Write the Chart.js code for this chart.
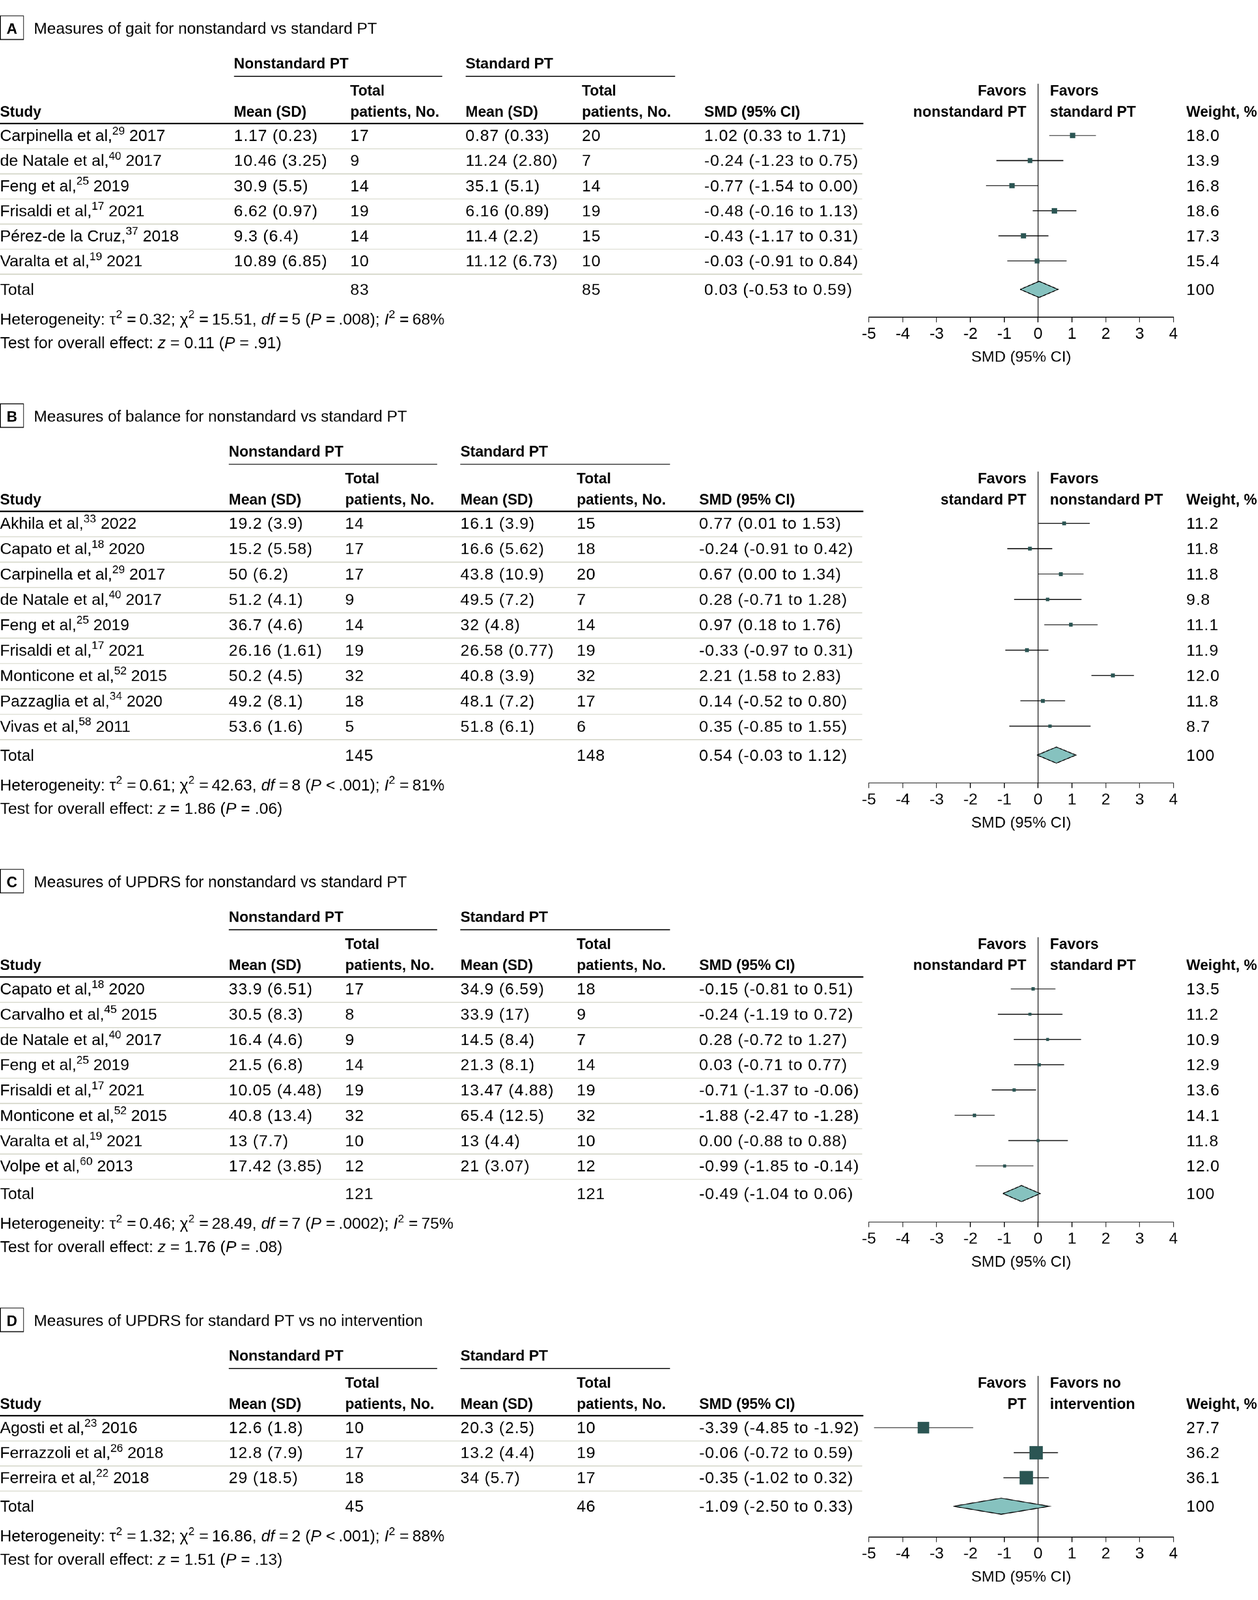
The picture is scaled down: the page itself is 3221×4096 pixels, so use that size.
<!DOCTYPE html>
<html>
<head>
<meta charset="utf-8">
<script src="https://cdn.jsdelivr.net/npm/chart.js@4.4.1/dist/chart.umd.min.js"></script>
<style>
html, body { margin: 0; padding: 0; background: #fff; overflow: hidden; }
#page { position: relative; width: 3221px; height: 4096px; overflow: hidden; background: #fff; }
#inner { position: absolute; left: 0; top: 0; width: 3892px; height: 4950px; transform: scale(0.827); transform-origin: 0 0; }
#inner canvas { position: absolute; left: 0; }
</style>
</head>
<body>
<div id="page"><div id="inner"></div></div>
<script>
// ---- A: gait
const gaitTitle = 'Measures of gait for nonstandard vs standard PT';
const gaitFavL = ['Favors', 'nonstandard PT'];
const gaitFavR = ['Favors', 'standard PT'];
const gaitStudy = ['Carpinella et al,', 'de Natale et al,', 'Feng et al,', 'Frisaldi et al,', 'Pérez-de la Cruz,', 'Varalta et al,'];
const gaitRef = ['29', '40', '25', '17', '37', '19'];
const gaitYear = ['2017', '2017', '2019', '2021', '2018', '2021'];
const gaitMeanN = ['1.17 (0.23)', '10.46 (3.25)', '30.9 (5.5)', '6.62 (0.97)', '9.3 (6.4)', '10.89 (6.85)'];
const gaitTotN = [17, 9, 14, 19, 14, 10];
const gaitMeanS = ['0.87 (0.33)', '11.24 (2.80)', '35.1 (5.1)', '6.16 (0.89)', '11.4 (2.2)', '11.12 (6.73)'];
const gaitTotS = [20, 7, 14, 19, 15, 10];
const gaitSmdText = ['1.02 (0.33 to 1.71)', '-0.24 (-1.23 to 0.75)', '-0.77 (-1.54 to 0.00)', '-0.48 (-0.16 to 1.13)', '-0.43 (-1.17 to 0.31)', '-0.03 (-0.91 to 0.84)'];
const gaitEst = [1.02, -0.24, -0.77, 0.48, -0.43, -0.03];
const gaitLo = [0.33, -1.23, -1.54, -0.16, -1.17, -0.91];
const gaitHi = [1.71, 0.75, 0.00, 1.13, 0.31, 0.84];
const gaitWeight = ['18.0', '13.9', '16.8', '18.6', '17.3', '15.4'];
const gaitTotal = [83, 85];
const gaitPooled = [0.03, -0.53, 0.59];
const gaitPooledText = '0.03 (-0.53 to 0.59)';
const gaitHet = ['0.32', '15.51', '5', '= .008', '68'];
const gaitZ = ['0.11', '= .91'];

// ---- B: balance
const balTitle = 'Measures of balance for nonstandard vs standard PT';
const balFavL = ['Favors', 'standard PT'];
const balFavR = ['Favors', 'nonstandard PT'];
const balStudy = ['Akhila et al,', 'Capato et al,', 'Carpinella et al,', 'de Natale et al,', 'Feng et al,', 'Frisaldi et al,', 'Monticone et al,', 'Pazzaglia et al,', 'Vivas et al,'];
const balRef = ['33', '18', '29', '40', '25', '17', '52', '34', '58'];
const balYear = ['2022', '2020', '2017', '2017', '2019', '2021', '2015', '2020', '2011'];
const balMeanN = ['19.2 (3.9)', '15.2 (5.58)', '50 (6.2)', '51.2 (4.1)', '36.7 (4.6)', '26.16 (1.61)', '50.2 (4.5)', '49.2 (8.1)', '53.6 (1.6)'];
const balTotN = [14, 17, 17, 9, 14, 19, 32, 18, 5];
const balMeanS = ['16.1 (3.9)', '16.6 (5.62)', '43.8 (10.9)', '49.5 (7.2)', '32 (4.8)', '26.58 (0.77)', '40.8 (3.9)', '48.1 (7.2)', '51.8 (6.1)'];
const balTotS = [15, 18, 20, 7, 14, 19, 32, 17, 6];
const balSmdText = ['0.77 (0.01 to 1.53)', '-0.24 (-0.91 to 0.42)', '0.67 (0.00 to 1.34)', '0.28 (-0.71 to 1.28)', '0.97 (0.18 to 1.76)', '-0.33 (-0.97 to 0.31)', '2.21 (1.58 to 2.83)', '0.14 (-0.52 to 0.80)', '0.35 (-0.85 to 1.55)'];
const balEst = [0.77, -0.24, 0.67, 0.28, 0.97, -0.33, 2.21, 0.14, 0.35];
const balLo = [0.01, -0.91, 0.00, -0.71, 0.18, -0.97, 1.58, -0.52, -0.85];
const balHi = [1.53, 0.42, 1.34, 1.28, 1.76, 0.31, 2.83, 0.80, 1.55];
const balWeight = ['11.2', '11.8', '11.8', '9.8', '11.1', '11.9', '12.0', '11.8', '8.7'];
const balTotal = [145, 148];
const balPooled = [0.54, -0.03, 1.12];
const balPooledText = '0.54 (-0.03 to 1.12)';
const balHet = ['0.61', '42.63', '8', '< .001', '81'];
const balZ = ['1.86', '= .06'];

// ---- C: UPDRS, nonstandard vs standard
const updTitle = 'Measures of UPDRS for nonstandard vs standard PT';
const updFavL = ['Favors', 'nonstandard PT'];
const updFavR = ['Favors', 'standard PT'];
const updStudy = ['Capato et al,', 'Carvalho et al,', 'de Natale et al,', 'Feng et al,', 'Frisaldi et al,', 'Monticone et al,', 'Varalta et al,', 'Volpe et al,'];
const updRef = ['18', '45', '40', '25', '17', '52', '19', '60'];
const updYear = ['2020', '2015', '2017', '2019', '2021', '2015', '2021', '2013'];
const updMeanN = ['33.9 (6.51)', '30.5 (8.3)', '16.4 (4.6)', '21.5 (6.8)', '10.05 (4.48)', '40.8 (13.4)', '13 (7.7)', '17.42 (3.85)'];
const updTotN = [17, 8, 9, 14, 19, 32, 10, 12];
const updMeanS = ['34.9 (6.59)', '33.9 (17)', '14.5 (8.4)', '21.3 (8.1)', '13.47 (4.88)', '65.4 (12.5)', '13 (4.4)', '21 (3.07)'];
const updTotS = [18, 9, 7, 14, 19, 32, 10, 12];
const updSmdText = ['-0.15 (-0.81 to 0.51)', '-0.24 (-1.19 to 0.72)', '0.28 (-0.72 to 1.27)', '0.03 (-0.71 to 0.77)', '-0.71 (-1.37 to -0.06)', '-1.88 (-2.47 to -1.28)', '0.00 (-0.88 to 0.88)', '-0.99 (-1.85 to -0.14)'];
const updEst = [-0.15, -0.24, 0.28, 0.03, -0.71, -1.88, 0.00, -0.99];
const updLo = [-0.81, -1.19, -0.72, -0.71, -1.37, -2.47, -0.88, -1.85];
const updHi = [0.51, 0.72, 1.27, 0.77, -0.06, -1.28, 0.88, -0.14];
const updWeight = ['13.5', '11.2', '10.9', '12.9', '13.6', '14.1', '11.8', '12.0'];
const updTotal = [121, 121];
const updPooled = [-0.49, -1.04, 0.06];
const updPooledText = '-0.49 (-1.04 to 0.06)';
const updHet = ['0.46', '28.49', '7', '= .0002', '75'];
const updZ = ['1.76', '= .08'];

// ---- D: UPDRS, standard PT vs no intervention
const noTitle = 'Measures of UPDRS for standard PT vs no intervention';
const noFavL = ['Favors', 'PT'];
const noFavR = ['Favors no', 'intervention'];
const noStudy = ['Agosti et al,', 'Ferrazzoli et al,', 'Ferreira et al,'];
const noRef = ['23', '26', '22'];
const noYear = ['2016', '2018', '2018'];
const noMeanN = ['12.6 (1.8)', '12.8 (7.9)', '29 (18.5)'];
const noTotN = [10, 17, 18];
const noMeanS = ['20.3 (2.5)', '13.2 (4.4)', '34 (5.7)'];
const noTotS = [10, 19, 17];
const noSmdText = ['-3.39 (-4.85 to -1.92)', '-0.06 (-0.72 to 0.59)', '-0.35 (-1.02 to 0.32)'];
const noEst = [-3.39, -0.06, -0.35];
const noLo = [-4.85, -0.72, -1.02];
const noHi = [-1.92, 0.59, 0.32];
const noWeight = ['27.7', '36.2', '36.1'];
const noTotal = [45, 46];
const noPooled = [-1.09, -2.50, 0.33];
const noPooledText = '-1.09 (-2.50 to 0.33)';
const noHet = ['1.32', '16.86', '2', '< .001', '88'];
const noZ = ['1.51', '= .13'];

const smdMin = -5, smdMax = 4;

// layout (reference pixels; the page is scaled by 0.827)
const FONT = '"Liberation Sans", Arial, sans-serif';
const NS = 1.7;            // extra letter spacing for number columns
const AXIS_H = 160;
const SQUARE = '#2b5553', DIAMOND = '#86c2bf', RULE = '#cfd1c2';
const colsA = [0, 724, 1084, 1441, 1801, 2180];
const colsB = [0, 708, 1068, 1425, 1785, 2164];

const panels = [
  { letter: 'A', title: gaitTitle, favL: gaitFavL, favR: gaitFavR, T: 104, rowH: 77.6, totGap: 88, axisGap: 86, cols: colsA, k: 3.94,
    study: gaitStudy, ref: gaitRef, year: gaitYear, meanN: gaitMeanN, totN: gaitTotN, meanS: gaitMeanS, totS: gaitTotS,
    smd: gaitSmdText, est: gaitEst, lo: gaitLo, hi: gaitHi, wt: gaitWeight, total: gaitTotal, pooled: gaitPooled, pooledText: gaitPooledText, het: gaitHet, z: gaitZ },
  { letter: 'B', title: balTitle, favL: balFavL, favR: balFavR, T: 1304.5, rowH: 78.5, totGap: 89.5, axisGap: 86, cols: colsB, k: 3.5,
    study: balStudy, ref: balRef, year: balYear, meanN: balMeanN, totN: balTotN, meanS: balMeanS, totS: balTotS,
    smd: balSmdText, est: balEst, lo: balLo, hi: balHi, wt: balWeight, total: balTotal, pooled: balPooled, pooledText: balPooledText, het: balHet, z: balZ },
  { letter: 'C', title: updTitle, favL: updFavL, favR: updFavR, T: 2745.5, rowH: 78.26, totGap: 85.6, axisGap: 87.7, cols: colsB, k: 2.85,
    study: updStudy, ref: updRef, year: updYear, meanN: updMeanN, totN: updTotN, meanS: updMeanS, totS: updTotS,
    smd: updSmdText, est: updEst, lo: updLo, hi: updHi, wt: updWeight, total: updTotal, pooled: updPooled, pooledText: updPooledText, het: updHet, z: updZ },
  { letter: 'D', title: noTitle, favL: noFavL, favR: noFavR, T: 4103.9, rowH: 77.5, totGap: 88, axisGap: 95.3, cols: colsB, k: 6.9,
    study: noStudy, ref: noRef, year: noYear, meanN: noMeanN, totN: noTotN, meanS: noMeanS, totS: noTotS,
    smd: noSmdText, est: noEst, lo: noLo, hi: noHi, wt: noWeight, total: noTotal, pooled: noPooled, pooledText: noPooledText, het: noHet, z: noZ }
];

function put(ctx, s, x, y, size, weight, align, spacing) {
  ctx.font = (weight ? weight + ' ' : '') + size + 'px ' + FONT;
  ctx.textAlign = align || 'left';
  ctx.letterSpacing = (spacing || 0) + 'px';
  ctx.fillText(String(s), x, y);
  ctx.letterSpacing = '0px';
}

// parts: [text, style] with style '' | 'i' | 's'
function rich(ctx, parts, x, y, size) {
  ctx.textAlign = 'left';
  for (const [t, st] of parts) {
    let fs = size, dy = 0, pre = '';
    if (st === 's') { fs = size * 0.7; dy = -size * 0.4; }
    if (st === 'i') pre = 'italic ';
    ctx.font = pre + fs + 'px ' + FONT;
    ctx.fillText(t, x, y + dy);
    x += ctx.measureText(t).width;
  }
}

function hline(ctx, x1, x2, y, w, color) {
  ctx.beginPath();
  ctx.strokeStyle = color;
  ctx.lineWidth = w;
  ctx.moveTo(x1, y);
  ctx.lineTo(x2, y);
  ctx.stroke();
}

function makeText(p, top) {
  return {
    id: 'text' + p.letter,
    afterDraw(chart) {
      const ctx = chart.ctx, ys = chart.scales.y;
      const T = p.T - top, c = p.cols, n = p.study.length;
      ctx.save();
      ctx.fillStyle = '#000';
      ctx.textBaseline = 'alphabetic';

      // panel letter and title
      ctx.strokeStyle = '#000';
      ctx.lineWidth = 2.5;
      ctx.strokeRect(1.25, T - 55, 71.5, 73);
      put(ctx, p.letter, 37, T, 46, 'bold', 'center');
      put(ctx, p.title, 105, T, 49);

      // column headers
      put(ctx, 'Nonstandard PT', c[1], T + 108, 46, 'bold');
      put(ctx, 'Standard PT', c[3], T + 108, 46, 'bold');
      hline(ctx, c[1], c[1] + 645, T + 132, 2.5, '#000');
      hline(ctx, c[3], c[3] + 649, T + 132, 2.5, '#000');
      put(ctx, 'Total', c[2], T + 191, 46, 'bold');
      put(ctx, 'Total', c[4], T + 191, 46, 'bold');
      put(ctx, 'Study', c[0], T + 257, 46, 'bold');
      put(ctx, 'Mean (SD)', c[1], T + 257, 46, 'bold');
      put(ctx, 'patients, No.', c[2], T + 257, 46, 'bold');
      put(ctx, 'Mean (SD)', c[3], T + 257, 46, 'bold');
      put(ctx, 'patients, No.', c[4], T + 257, 46, 'bold');
      put(ctx, 'SMD (95% CI)', c[5], T + 257, 46, 'bold');
      hline(ctx, 0, 2672, T + 278, 4, '#000');

      put(ctx, p.favL[0], 3177, T + 191, 46, 'bold', 'right');
      put(ctx, p.favL[1], 3177, T + 257, 46, 'bold', 'right');
      put(ctx, p.favR[0], 3250, T + 191, 46, 'bold');
      put(ctx, p.favR[1], 3250, T + 257, 46, 'bold');
      put(ctx, 'Weight, %', 3672, T + 257, 46, 'bold');

      // study rows
      ctx.fillStyle = '#000';
      for (let i = 0; i < n; i++) {
        const cy = ys.getPixelForValue(i), by = cy + 17;
        rich(ctx, [[p.study[i], ''], [p.ref[i], 's'], [' ' + p.year[i], '']], c[0], by, 50);
        put(ctx, p.meanN[i], c[1], by, 50, '', 'left', NS);
        put(ctx, p.totN[i], c[2], by, 50, '', 'left', NS);
        put(ctx, p.meanS[i], c[3], by, 50, '', 'left', NS);
        put(ctx, p.totS[i], c[4], by, 50, '', 'left', NS);
        put(ctx, p.smd[i], c[5], by, 50, '', 'left', NS);
        put(ctx, p.wt[i], 3672, by, 50, '', 'left', NS);
        hline(ctx, 0, 2669, cy + p.rowH * 0.53, 2.5, RULE);
      }

      // total row
      const ty = ys.getPixelForValue(n - 1 + p.totGap / p.rowH), tb = ty + 17;
      ctx.fillStyle = '#000';
      put(ctx, 'Total', c[0], tb, 50);
      put(ctx, p.total[0], c[2], tb, 50, '', 'left', NS);
      put(ctx, p.total[1], c[4], tb, 50, '', 'left', NS);
      put(ctx, p.pooledText, c[5], tb, 50, '', 'left', NS);
      put(ctx, '100', 3672, tb, 50, '', 'left', NS);

      // heterogeneity and overall effect
      const h = p.het, hy = ty + 92 + 17, eq = ' =\u2009';
      rich(ctx, [['Heterogeneity: τ', ''], ['2', 's'], [eq + h[0] + '; χ', ''], ['2', 's'], [eq + h[1] + ', ', ''],
        ['df', 'i'], [eq + h[2] + ' (', ''], ['P', 'i'], [' ' + h[3].replace(' ', '\u2009') + '); ', ''], ['I', 'i'], ['2', 's'], [eq + h[4] + '%', '']], 0, hy, 50);
      rich(ctx, [['Test for overall effect: ', ''], ['z', 'i'], [' = ' + p.z[0] + ' (', ''], ['P', 'i'], [' ' + p.z[1] + ')', '']], 0, hy + 72.5, 50);
      ctx.restore();
    }
  };
}

const inner = document.getElementById('inner');

panels.forEach(p => {
  const n = p.study.length;
  const top = Math.max(0, p.T - 100);
  const row0 = p.T + 315;
  const totalPx = row0 + (n - 1) * p.rowH + p.totGap;
  const axisPx = totalPx + p.axisGap;
  const height = Math.round(axisPx + 180 - top);
  const yMin = (p.T + 155 - row0) / p.rowH;
  const yMax = (axisPx - row0) / p.rowH;
  const vTot = n - 1 + p.totGap / p.rowH;
  const half = 25 / p.rowH;

  const canvas = document.createElement('canvas');
  canvas.width = 3892;
  canvas.height = height;
  canvas.style.top = top + 'px';
  inner.appendChild(canvas);

  const datasets = [];
  // squares (first = drawn on top)
  datasets.push({
    type: 'scatter',
    data: p.est.map((v, i) => ({ x: v, y: i })),
    pointStyle: 'rect',
    pointRadius: p.wt.map(w => p.k * Math.sqrt(parseFloat(w)) / (2 * Math.SQRT1_2)),
    pointBackgroundColor: SQUARE,
    pointBorderWidth: 0,
    pointBorderColor: SQUARE
  });
  // pooled diamond
  datasets.push({
    type: 'line',
    data: [
      { x: p.pooled[1], y: vTot }, { x: p.pooled[0], y: vTot - half },
      { x: p.pooled[2], y: vTot }, { x: p.pooled[0], y: vTot + half },
      { x: p.pooled[1], y: vTot }
    ],
    borderColor: '#000', borderWidth: 2.5, backgroundColor: DIAMOND,
    fill: 'shape', pointRadius: 0, tension: 0, borderJoinStyle: 'miter'
  });
  // confidence intervals
  p.est.forEach((v, i) => {
    datasets.push({
      type: 'line',
      data: [{ x: p.lo[i], y: i }, { x: p.hi[i], y: i }],
      borderColor: '#000', borderWidth: 2.5, pointRadius: 0, fill: false
    });
  });
  // line of no effect
  datasets.push({
    type: 'line',
    data: [{ x: 0, y: yMin }, { x: 0, y: yMax }],
    borderColor: '#000', borderWidth: 2, pointRadius: 0, fill: false
  });

  new Chart(canvas, {
    type: 'scatter',
    data: { datasets },
    options: {
      responsive: false,
      devicePixelRatio: 0.827,
      animation: false,
      events: [],
      layout: { padding: { top: p.T + 155 - top, left: 2689.6, right: 3892 - 3632.2, bottom: height - (axisPx - top) - AXIS_H } },
      plugins: { legend: { display: false }, tooltip: { enabled: false } },
      scales: {
        x: {
          type: 'linear', position: 'bottom', min: smdMin, max: smdMax,
          ticks: { stepSize: 1, color: '#000', padding: 7, font: { family: FONT, size: 50 } },
          grid: { drawOnChartArea: false, drawTicks: true, tickLength: 16, color: '#000', lineWidth: 2.5 },
          border: { display: true, color: '#000', width: 2.5 },
          title: { display: true, text: 'SMD (95% CI)', color: '#000', font: { family: FONT, size: 48 }, padding: { top: 0, bottom: 6 } },
          afterFit: s => { s.height = AXIS_H; }
        },
        y: { type: 'linear', display: false, reverse: true, min: yMin, max: yMax }
      }
    },
    plugins: [makeText(p, top)]
  });
});
</script>
</body>
</html>
